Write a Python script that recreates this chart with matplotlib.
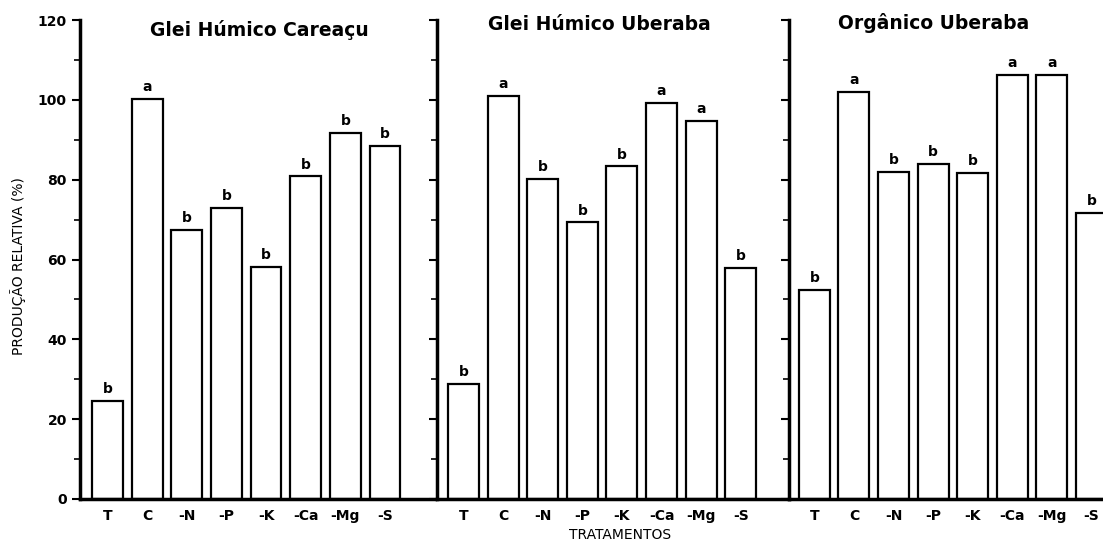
import numpy as np
import matplotlib
matplotlib.use('Agg')
import matplotlib.pyplot as plt

# dados
tratamentos = ['T', 'C', '-N', '-P', '-K', '-Ca', '-Mg', '-S']
solos = ['Glei Húmico Careaçu', 'Glei Húmico Uberaba', 'Orgânico Uberaba']
careacu = [24.6, 100.2, 67.4, 73.0, 58.2, 80.8, 91.7, 88.5]
uberaba_glei = [28.8, 101.0, 80.2, 69.3, 83.3, 99.3, 94.8, 57.8]
uberaba_org = [52.4, 101.9, 81.9, 83.9, 81.6, 106.3, 106.3, 71.6]
letras_careacu = ['b', 'a', 'b', 'b', 'b', 'b', 'b', 'b']
letras_glei = ['b', 'a', 'b', 'b', 'b', 'a', 'a', 'b']
letras_org = ['b', 'a', 'b', 'b', 'b', 'a', 'a', 'b']
yticks = [0, 20, 40, 60, 80, 100, 120]

valores = [careacu, uberaba_glei, uberaba_org]
letras = [letras_careacu, letras_glei, letras_org]

W, H = 1103, 542
fig = plt.figure(figsize=(W / 100, H / 100), dpi=100)

# posicao dos paineis em pixels (esq, dir) e limites em x
paineis = [(80, 435, (-0.69, 8.26)),
           (437, 789, (-0.67, 8.22)),
           (789, 1103, (-0.64, 7.29))]
titulo_x = [259, 599, 934]
titulo_y = [30, 25, 23]
base, topo = 499, 20

x = np.arange(len(tratamentos))
for i, (x0, x1, xl) in enumerate(paineis):
    ax = fig.add_axes([x0 / W, (H - base) / H, (x1 - x0) / W, (base - topo) / H])
    ax.bar(x, valores[i], width=0.78, facecolor='white', edgecolor='black',
           linewidth=1.6, zorder=2)
    for xi, v, l in zip(x, valores[i], letras[i]):
        ax.text(xi, v + 1.2, l, ha='center', va='bottom', fontsize=10,
                fontweight='bold')
    ax.set_xlim(*xl)
    ax.set_ylim(0, 120)
    ax.set_xticks(x)
    ax.set_xticklabels(tratamentos, fontsize=10, fontweight='bold')
    ax.tick_params(axis='x', length=0, pad=7)
    ax.set_yticks(yticks)
    ax.set_yticks([10, 30, 50, 70, 90, 110], minor=True)
    ax.tick_params(axis='y', which='major', direction='out', length=6, width=1.5)
    ax.tick_params(axis='y', which='minor', direction='out', length=4, width=1.2)
    if i == 0:
        ax.set_yticklabels([str(v) for v in yticks], fontsize=10,
                           fontweight='bold')
    else:
        ax.set_yticklabels([])
    for s in ['top', 'right']:
        ax.spines[s].set_visible(False)
    ax.spines['left'].set_linewidth(2.5)
    ax.spines['bottom'].set_linewidth(2.5)
    ax.patch.set_alpha(0)
    fig.text(titulo_x[i] / W, 1 - titulo_y[i] / H, solos[i], ha='center',
             va='center', fontsize=13.5, fontweight='bold')

fig.text(18 / W, 1 - 266 / H, 'PRODUÇÃO RELATIVA (%)', rotation=90,
         ha='center', va='center', fontsize=10)
fig.text(620 / W, 1 - 535 / H, 'TRATAMENTOS', ha='center', va='center',
         fontsize=10)

fig.savefig('out.png', dpi=100, facecolor='white')
